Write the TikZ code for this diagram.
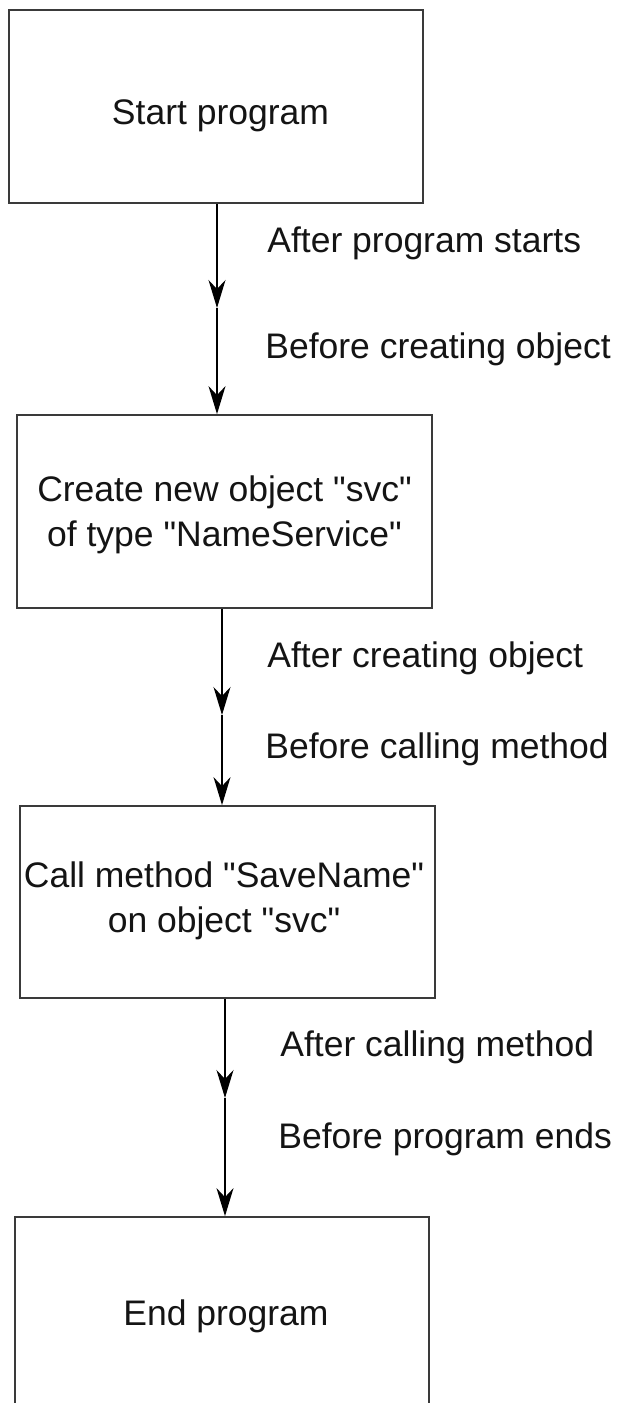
\documentclass[tikz,border=0pt]{standalone}
\usepackage{fontspec}
\setmainfont[Ligatures=TeXOff]{Liberation Sans}
\usetikzlibrary{arrows.meta}
\definecolor{boxline}{HTML}{3A3A3A}
\definecolor{txt}{HTML}{141414}
\tikzset{
  box/.style={draw=boxline, line width=0.9pt, rectangle, inner sep=0pt, fill=white},
  boxtext/.style={inner sep=0pt, text=txt, font=\fontsize{17.75}{22.5}\selectfont, align=center},
  lbl/.style={inner sep=0pt, text=txt, font=\fontsize{17.75}{22.5}\selectfont, anchor=base west},
  arr/.style={draw=black, line width=0.75pt, -{Stealth[length=14pt, width=8.5pt, inset=4.5pt]}}
}
\begin{document}
\begin{tikzpicture}[x=0.5pt, y=-0.5pt]
\useasboundingbox (0,0) rectangle (618,1403);
\fill[white] (0,0) rectangle (618,1403);
\clip (0,0) rectangle (618,1403);
% boxes
\node[box, minimum width=207pt, minimum height=96.5pt] (b1) at (216,106.5) {};
\node[box, minimum width=207.5pt, minimum height=96.5pt] (b2) at (224.5,511.5) {};
\node[box, minimum width=207.5pt, minimum height=96pt] (b3) at (227.5,902) {};
\node[box, minimum width=207pt, minimum height=96.5pt] (b4) at (222,1313.5) {};
% box texts
\node[boxtext, anchor=base] (t1) at (220.5,124) {Start program};
\node[boxtext] (t2) at (224.5,515) {Create new object "svc"\\of type "NameService"};
\node[boxtext] (t3) at (224,901) {Call method "SaveName"\\on object "svc"};
\node[boxtext, anchor=base] (t4) at (226,1325.7) {End program};
% mid points of connectors
\coordinate (m1) at (217,308);
\coordinate (m2) at (222,715);
\coordinate (m3) at (225,1098);
% connectors
\draw[arr] (m1 |- b1.south) -- (m1);
\draw[arr] (m1) -- (m1 |- b2.north);
\draw[arr] (m2 |- b2.south) -- (m2);
\draw[arr] (m2) -- (m2 |- b3.north);
\draw[arr] (m3 |- b3.south) -- (m3);
\draw[arr] (m3) -- (m3 |- b4.north);
% labels
\node[lbl] (l1) at (267,252) {After program starts};
\node[lbl] (l2) at (265,358) {Before creating object};
\node[lbl] (l3) at (267,667) {After creating object};
\node[lbl] (l4) at (265,758) {Before calling method};
\node[lbl] (l5) at (280,1056) {After calling method};
\node[lbl] (l6) at (278,1148) {Before program ends};
\end{tikzpicture}
\end{document}
